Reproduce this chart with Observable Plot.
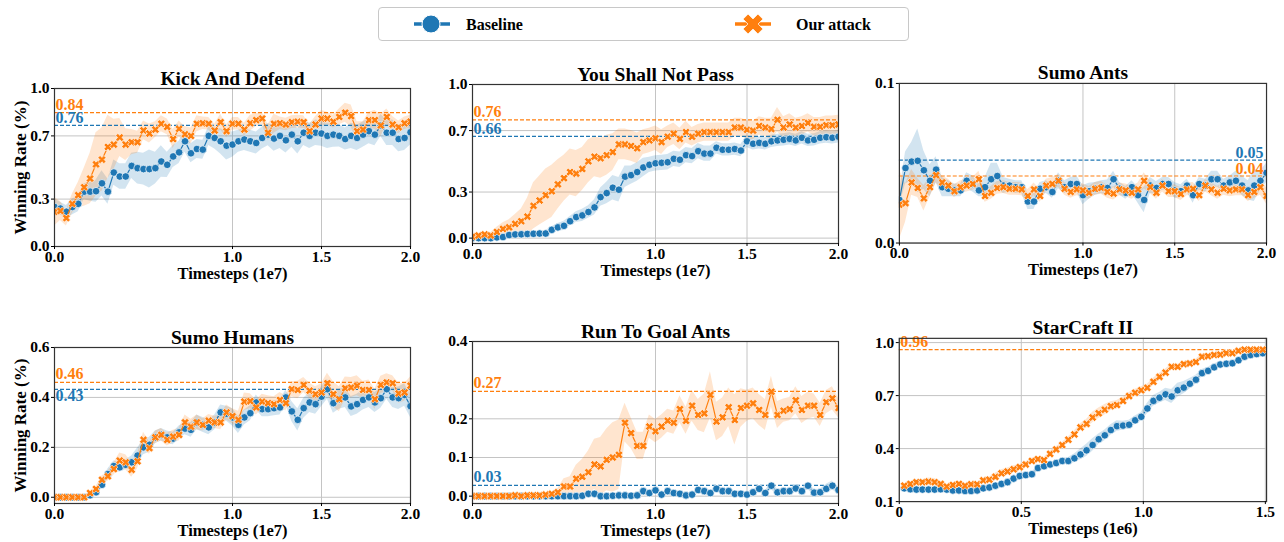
<!DOCTYPE html>
<html><head><meta charset="utf-8">
<script src="https://cdn.jsdelivr.net/npm/d3@7"></script>
<script src="https://cdn.jsdelivr.net/npm/@observablehq/plot@0.6"></script>
<style>
body{margin:0;background:#fff;width:1284px;height:542px;overflow:hidden;position:relative;font-family:"Liberation Serif","Times New Roman",serif;}
.panel{position:absolute;}
#legend{position:absolute;left:378px;top:7px;width:531px;height:34px;border:1.5px solid #c8c8c8;border-radius:4px;box-sizing:border-box;background:#fff;}
</style></head><body>
<div id="legend">
<svg width="531" height="34" style="position:absolute;left:-1.5px;top:-1.5px;overflow:visible">
<line x1="36" x2="72" y1="17" y2="17" stroke="#1f77b4" stroke-width="3.5"/>
<circle cx="53" cy="17" r="9" fill="#1f77b4" stroke="#fff" stroke-width="1"/>
<text x="88" y="22.5" font-family="Liberation Serif, serif" font-weight="bold" font-size="16">Baseline</text>
<line x1="357" x2="393" y1="17" y2="17" stroke="#ff7f0e" stroke-width="3.5"/>
<path id="legx" fill="#ff7f0e" stroke="#fff" stroke-width="0.8"/>
<text x="418" y="22.5" font-family="Liberation Serif, serif" font-weight="bold" font-size="16">Our attack</text>
</svg>
</div>
<script>
// ---------- data ----------
const seriesNames = ["Baseline", "Our attack"];
const colors = {base: "#1f77b4", attack: "#ff7f0e"};
const titles = ["Kick And Defend", "You Shall Not Pass", "Sumo Ants", "Sumo Humans", "Run To Goal Ants", "StarCraft II"];
const xLabels = ["Timesteps (1e7)", "Timesteps (1e7)", "Timesteps (1e7)", "Timesteps (1e7)", "Timesteps (1e7)", "Timesteps (1e6)"];
const yLabel = "Winning Rate (%)";

// checkpoints (units of 1e7 steps; StarCraft in 1e6 steps)
const steps = d3.range(61).map(i => i / 30);
const scSteps = d3.range(60).map(i => 0.0204 + i * 0.0249);

const kadBase = [0.25,0.24,0.22,0.25,0.27,0.347,0.347,0.35,0.40,0.347,
 0.468,0.443,0.443,0.51,0.496,0.49,0.49,0.496,0.538,0.517,
 0.57,0.596,0.666,0.59,0.617,0.613,0.70,0.687,0.666,0.638,
 0.645,0.666,0.677,0.666,0.655,0.687,0.708,0.683,0.70,0.672,
 0.708,0.666,0.72,0.70,0.72,0.715,0.70,0.708,0.70,0.68,
 0.70,0.687,0.708,0.73,0.708,0.766,0.72,0.72,0.68,0.687,0.723];
const kadBaseSd = [0.05,0.04,0.04,0.05,0.05,0.05,0.06,0.07,0.08,0.08,
 0.08,0.08,0.08,0.08,0.1,0.1,0.12,0.1,0.1,0.08,
 0.07,0.07,0.07,0.06,0.06,0.06,0.06,0.07,0.08,0.09,
 0.08,0.07,0.07,0.07,0.07,0.07,0.07,0.08,0.08,0.08,
 0.08,0.08,0.08,0.08,0.08,0.08,0.08,0.08,0.07,0.07,
 0.08,0.08,0.08,0.08,0.07,0.07,0.08,0.08,0.08,0.08,0.08];
const kadAttack = [0.22,0.225,0.18,0.27,0.325,0.375,0.43,0.52,0.55,0.63,
 0.645,0.69,0.645,0.66,0.66,0.735,0.715,0.74,0.777,0.757,
 0.68,0.745,0.71,0.70,0.777,0.78,0.777,0.734,0.787,0.73,
 0.777,0.777,0.74,0.78,0.80,0.81,0.72,0.777,0.78,0.772,
 0.787,0.79,0.787,0.73,0.772,0.81,0.81,0.79,0.82,0.847,
 0.825,0.73,0.74,0.80,0.80,0.766,0.82,0.772,0.755,0.78,0.79];
const kadAttackSd = [0.09,0.06,0.05,0.06,0.08,0.12,0.16,0.2,0.2,0.2,
 0.16,0.12,0.1,0.08,0.07,0.06,0.06,0.05,0.05,0.05,
 0.06,0.05,0.05,0.05,0.05,0.04,0.04,0.04,0.05,0.04,
 0.04,0.04,0.04,0.05,0.04,0.04,0.05,0.06,0.04,0.04,
 0.04,0.04,0.04,0.04,0.05,0.05,0.04,0.04,0.05,0.06,
 0.07,0.06,0.05,0.05,0.06,0.07,0.05,0.05,0.04,0.04,0.04];

const ysnpBase = [0,0,0,0,0.005,0.007,0.02,0.024,0.025,0.027,
 0.028,0.03,0.03,0.054,0.07,0.08,0.11,0.137,0.148,0.17,
 0.20,0.267,0.293,0.328,0.315,0.40,0.41,0.43,0.46,0.477,
 0.487,0.49,0.494,0.516,0.51,0.54,0.534,0.566,0.55,0.55,
 0.588,0.575,0.575,0.58,0.57,0.63,0.614,0.62,0.614,0.63,
 0.636,0.64,0.646,0.636,0.653,0.636,0.64,0.653,0.657,0.653,0.66];
const ysnpBaseSd = [0.005,0.005,0.005,0.005,0.005,0.01,0.01,0.01,0.01,0.01,
 0.01,0.015,0.02,0.02,0.025,0.03,0.03,0.035,0.04,0.04,
 0.05,0.06,0.07,0.08,0.08,0.07,0.06,0.06,0.06,0.05,
 0.05,0.05,0.05,0.05,0.05,0.05,0.05,0.05,0.05,0.05,
 0.04,0.04,0.04,0.04,0.04,0.04,0.04,0.04,0.04,0.04,
 0.04,0.04,0.04,0.04,0.04,0.04,0.04,0.04,0.04,0.04,0.04];
const ysnpAttack = [0.01,0.017,0.024,0.017,0.04,0.06,0.07,0.093,0.11,0.14,
 0.21,0.245,0.28,0.305,0.35,0.39,0.43,0.42,0.45,0.50,
 0.53,0.52,0.54,0.56,0.61,0.61,0.60,0.585,0.625,0.636,
 0.65,0.625,0.66,0.68,0.646,0.69,0.66,0.68,0.69,0.69,
 0.69,0.69,0.69,0.72,0.72,0.705,0.70,0.73,0.72,0.71,
 0.77,0.72,0.74,0.72,0.73,0.75,0.725,0.725,0.735,0.735,0.74];
const ysnpAttackSd = [0.01,0.01,0.01,0.02,0.03,0.04,0.05,0.06,0.08,0.12,
 0.15,0.16,0.17,0.17,0.16,0.15,0.15,0.15,0.14,0.14,
 0.13,0.13,0.13,0.12,0.1,0.1,0.1,0.1,0.08,0.08,
 0.08,0.08,0.07,0.07,0.07,0.07,0.06,0.06,0.06,0.06,
 0.06,0.06,0.06,0.06,0.06,0.06,0.06,0.06,0.06,0.07,
 0.08,0.07,0.07,0.06,0.06,0.06,0.06,0.06,0.06,0.06,0.06];

const saBase = [0.027,0.047,0.051,0.0515,0.0456,0.039,0.046,0.035,0.034,0.033,
 0.033,0.039,0.037,0.033,0.035,0.040,0.042,0.036,0.036,0.035,
 0.035,0.026,0.026,0.034,0.035,0.032,0.039,0.035,0.037,0.037,
 0.030,0.0325,0.034,0.035,0.0345,0.040,0.034,0.0315,0.035,0.030,
 0.027,0.036,0.0345,0.037,0.037,0.033,0.0325,0.036,0.030,0.037,
 0.036,0.040,0.040,0.036,0.038,0.039,0.036,0.033,0.036,0.039,0.044];
const saBaseSd = [0.004,0.01,0.012,0.02,0.012,0.01,0.008,0.006,0.005,0.004,
 0.004,0.005,0.005,0.004,0.006,0.01,0.008,0.005,0.004,0.004,
 0.004,0.005,0.005,0.004,0.004,0.004,0.005,0.004,0.004,0.005,
 0.006,0.005,0.004,0.004,0.005,0.005,0.004,0.004,0.004,0.005,
 0.008,0.005,0.004,0.004,0.004,0.005,0.004,0.004,0.005,0.004,
 0.004,0.005,0.005,0.004,0.004,0.006,0.006,0.006,0.01,0.006,0.006];
const saAttack = [0.024,0.025,0.038,0.0345,0.028,0.035,0.0425,0.038,0.036,0.0325,
 0.035,0.036,0.037,0.040,0.0295,0.0315,0.0345,0.035,0.034,0.034,
 0.0336,0.0295,0.0336,0.0295,0.036,0.037,0.039,0.034,0.032,0.0336,
 0.033,0.0315,0.034,0.0345,0.032,0.031,0.0336,0.033,0.0315,0.0336,
 0.039,0.035,0.0315,0.036,0.0325,0.0325,0.0307,0.0336,0.034,0.030,
 0.036,0.0336,0.0315,0.034,0.033,0.0336,0.0336,0.030,0.032,0.035,0.0295];
const saAttackSd = [0.022,0.012,0.008,0.006,0.008,0.006,0.005,0.004,0.004,0.004,
 0.004,0.004,0.004,0.005,0.004,0.004,0.004,0.004,0.004,0.004,
 0.004,0.004,0.004,0.004,0.004,0.004,0.004,0.004,0.004,0.004,
 0.004,0.004,0.004,0.004,0.004,0.004,0.004,0.004,0.004,0.004,
 0.005,0.004,0.004,0.004,0.004,0.004,0.004,0.004,0.004,0.004,
 0.004,0.004,0.004,0.004,0.004,0.004,0.004,0.004,0.004,0.005,0.005];

const shBase = [0,0,0,0,0,0,0.008,0.02,0.05,0.093,
 0.125,0.12,0.13,0.14,0.167,0.2,0.21,0.24,0.25,0.24,
 0.235,0.26,0.275,0.27,0.30,0.29,0.28,0.30,0.34,0.335,
 0.32,0.29,0.32,0.337,0.38,0.353,0.353,0.357,0.36,0.40,
 0.344,0.31,0.357,0.38,0.373,0.403,0.433,0.377,0.393,0.40,
 0.364,0.373,0.39,0.40,0.38,0.397,0.433,0.40,0.397,0.41,0.365];
const shBaseSd = [0.002,0.002,0.002,0.002,0.002,0.002,0.006,0.01,0.015,0.02,
 0.02,0.02,0.02,0.025,0.03,0.03,0.03,0.025,0.025,0.025,
 0.025,0.025,0.025,0.03,0.03,0.03,0.03,0.03,0.03,0.03,
 0.035,0.035,0.03,0.03,0.03,0.03,0.03,0.03,0.03,0.03,
 0.04,0.045,0.04,0.04,0.04,0.04,0.04,0.04,0.04,0.04,
 0.04,0.04,0.04,0.04,0.04,0.04,0.04,0.04,0.045,0.045,0.045];
const shAttack = [0,0,0,0,0,0,0.017,0.033,0.07,0.084,
 0.113,0.147,0.14,0.11,0.144,0.23,0.197,0.24,0.25,0.23,
 0.243,0.25,0.30,0.283,0.30,0.29,0.307,0.30,0.30,0.34,
 0.325,0.31,0.383,0.385,0.36,0.383,0.377,0.373,0.39,0.377,
 0.433,0.43,0.45,0.427,0.413,0.42,0.457,0.413,0.393,0.437,
 0.44,0.447,0.43,0.43,0.393,0.45,0.46,0.457,0.416,0.42,0.447];
const shAttackSd = [0.002,0.002,0.002,0.002,0.002,0.002,0.008,0.01,0.015,0.02,
 0.025,0.03,0.03,0.03,0.03,0.03,0.025,0.025,0.025,0.025,
 0.025,0.025,0.03,0.03,0.03,0.025,0.025,0.025,0.03,0.03,
 0.03,0.035,0.035,0.03,0.03,0.03,0.03,0.03,0.03,0.03,
 0.03,0.035,0.03,0.03,0.03,0.035,0.04,0.05,0.05,0.045,
 0.04,0.04,0.035,0.04,0.04,0.035,0.035,0.03,0.04,0.035,0.035];

const rgBase = [0,0,0,0,0,0,0,0,0,0,
 0,0,0,0,0,0,0,0,0.001,0.006,
 0.006,0,0,0.001,0.002,0.002,0.001,0.002,0.013,0.008,
 0.015,0.004,0.013,0.008,0.006,0.002,0.004,0.016,0.013,0.008,
 0.019,0.013,0.013,0.006,0.006,0.004,0.01,0.019,0.008,0.027,
 0.01,0.013,0.013,0.02,0.013,0.027,0.009,0.01,0.019,0.027,0.016];
const rgBaseSd = [0.002,0.002,0.002,0.002,0.002,0.002,0.002,0.002,0.002,0.002,
 0.002,0.002,0.002,0.002,0.002,0.002,0.002,0.002,0.003,0.004,
 0.004,0.003,0.003,0.003,0.003,0.003,0.003,0.004,0.005,0.005,
 0.005,0.004,0.005,0.005,0.005,0.004,0.004,0.005,0.005,0.005,
 0.006,0.006,0.005,0.005,0.005,0.005,0.006,0.006,0.006,0.01,
 0.008,0.006,0.006,0.006,0.006,0.01,0.008,0.008,0.012,0.012,0.008];
const rgAttack = [0,0,0,0,0,0,0,0.002,0,0.002,
 0.002,0.002,0.004,0.006,0.01,0.025,0.025,0.045,0.05,0.062,
 0.082,0.077,0.094,0.10,0.107,0.19,0.163,0.13,0.13,0.18,
 0.168,0.18,0.195,0.19,0.225,0.195,0.234,0.21,0.214,0.262,
 0.193,0.204,0.23,0.197,0.228,0.234,0.24,0.223,0.21,0.27,
 0.21,0.221,0.225,0.248,0.223,0.234,0.234,0.21,0.243,0.253,0.228];
const rgAttackSd = [0.002,0.002,0.002,0.002,0.002,0.002,0.002,0.002,0.002,0.002,
 0.002,0.002,0.003,0.005,0.01,0.02,0.025,0.035,0.045,0.055,
 0.065,0.075,0.08,0.09,0.09,0.05,0.04,0.035,0.035,0.03,
 0.03,0.03,0.03,0.03,0.035,0.035,0.04,0.04,0.05,0.06,
 0.05,0.05,0.05,0.065,0.05,0.04,0.04,0.04,0.04,0.04,
 0.035,0.03,0.03,0.035,0.035,0.035,0.03,0.03,0.03,0.03,0.025];

const scBase = [0.175,0.17,0.168,0.168,0.168,0.168,0.17,0.168,0.163,0.163,
 0.16,0.16,0.163,0.175,0.18,0.19,0.2,0.21,0.23,0.245,
 0.25,0.255,0.29,0.3,0.31,0.318,0.33,0.33,0.345,0.367,
 0.39,0.42,0.453,0.475,0.505,0.527,0.53,0.535,0.56,0.58,
 0.627,0.67,0.688,0.707,0.695,0.73,0.745,0.767,0.79,0.827,
 0.84,0.86,0.876,0.88,0.883,0.9,0.92,0.93,0.935,0.94];
const scBaseSd = [0.008,0.008,0.008,0.008,0.008,0.008,0.008,0.008,0.008,0.008,
 0.008,0.008,0.008,0.01,0.01,0.01,0.01,0.01,0.012,0.012,
 0.012,0.012,0.012,0.012,0.012,0.012,0.015,0.02,0.025,0.03,
 0.035,0.035,0.03,0.03,0.03,0.03,0.025,0.025,0.025,0.025,
 0.03,0.03,0.03,0.035,0.04,0.04,0.035,0.03,0.025,0.02,
 0.02,0.02,0.015,0.015,0.012,0.012,0.01,0.01,0.01,0.01];
const scAttack = [0.19,0.2,0.21,0.21,0.213,0.21,0.2,0.185,0.194,0.2,
 0.19,0.198,0.198,0.22,0.224,0.24,0.26,0.27,0.283,0.295,
 0.31,0.33,0.34,0.335,0.37,0.395,0.42,0.45,0.48,0.52,
 0.54,0.576,0.6,0.62,0.64,0.647,0.67,0.697,0.716,0.73,
 0.744,0.778,0.806,0.83,0.863,0.863,0.878,0.882,0.89,0.92,
 0.923,0.93,0.932,0.94,0.94,0.953,0.96,0.96,0.96,0.96];
const scAttackSd = [0.01,0.01,0.01,0.012,0.02,0.02,0.015,0.01,0.01,0.01,
 0.01,0.01,0.01,0.012,0.015,0.02,0.02,0.02,0.02,0.015,
 0.015,0.015,0.015,0.015,0.015,0.015,0.015,0.015,0.02,0.02,
 0.025,0.03,0.03,0.03,0.025,0.025,0.02,0.02,0.02,0.02,
 0.02,0.02,0.02,0.02,0.015,0.015,0.015,0.015,0.015,0.015,
 0.012,0.012,0.012,0.01,0.01,0.01,0.008,0.008,0.008,0.008];

// reference (best) levels: [attack, baseline]; null = not drawn
const refValues = [[0.847,0.766],[0.77,0.662],[0.042,0.052],[0.46,0.432],[0.271,0.028],[0.96,null]];
const refLabels = [["0.84","0.76"],["0.76","0.66"],["0.04","0.05"],["0.46","0.43"],["0.27","0.03"],["0.96",null]];

// tick labels
const xTicks2e7 = [0, 1.0, 1.5, 2.0];
const xTicksSc = [0, 0.5, 1.0, 1.5];
const yTicksList = [[0,0.3,0.7,1.0],[0,0.3,0.7,1.0],[0,0.1],[0,0.2,0.4,0.6],[0,0.1,0.2,0.4],[0.1,0.4,0.7,1.0]];

// ---------- layout (page pixel positions of each frame) ----------
const panelDefs = [
 {x: steps, base: kadBase, baseSd: kadBaseSd, att: kadAttack, attSd: kadAttackSd, L:54,R:410,T:88,B:246, yDomain:[0,1], xDomain:[0,2], xTicks:xTicks2e7, ylab:true, labAnchor:"start", labDy:[-2.5,-2]},
 {x: steps, base: ysnpBase, baseSd: ysnpBaseSd, att: ysnpAttack, attSd: ysnpAttackSd, L:472,R:838,T:84,B:243, yDomain:[-0.035,1], xDomain:[0,2], xTicks:xTicks2e7, ylab:false, labAnchor:"start", labDy:[-2.5,-2.5]},
 {x: steps, base: saBase, baseSd: saBaseSd, att: saAttack, attSd: saAttackSd, L:899,R:1267,T:83,B:243, yDomain:[0,0.1], xDomain:[0,2], xTicks:xTicks2e7, ylab:false, labAnchor:"end", labDy:[-2.5,-2.5]},
 {x: steps, base: shBase, baseSd: shBaseSd, att: shAttack, attSd: shAttackSd, L:54,R:410,T:347,B:503, yDomain:[-0.025,0.6], xDomain:[0,2], xTicks:xTicks2e7, ylab:true, labAnchor:"start", labDy:[-3,11.5]},
 {x: steps, base: rgBase, baseSd: rgBaseSd, att: rgAttack, attSd: rgAttackSd, L:472,R:838,T:341,B:503, yDomain:[-0.019,0.4], xDomain:[0,2], xTicks:xTicks2e7, ylab:false, labAnchor:"start", labDy:[-3,-3]},
 {x: scSteps, base: scBase, baseSd: scBaseSd, att: scAttack, attSd: scAttackSd, L:899,R:1268,T:338,B:502, yDomain:[0.1,1.024], xDomain:[0,1.505], xTicks:xTicksSc, ylab:false, labAnchor:"start", labDy:[-3,-3]}
];

// filled "X" marker
function xPath(r, t) {
  const pts = [[-t,-r],[t,-r],[t,-t],[r,-t],[r,t],[t,t],[t,r],[-t,r],[-t,t],[-r,t],[-r,-t],[-t,-t]];
  const c = Math.SQRT1_2;
  return pts.map(([x,y]) => [(x - y) * c, (x + y) * c]);
}
const filledX = {
  draw(ctx, size) {
    const r = Math.sqrt(size / Math.PI);
    xPath(r, r * 0.36).forEach(([x, y], i) => i ? ctx.lineTo(x, y) : ctx.moveTo(x, y));
    ctx.closePath();
  }
};
document.getElementById("legx").setAttribute("d",
  "M" + xPath(10.5, 3.6).map(([x, y]) => `${(375 + x).toFixed(2)},${(17 + y).toFixed(2)}`).join("L") + "Z");

const mL = 50, mR = 18, mT = 32, mB = 40;
const fmt1 = d => d.toFixed(1);

panelDefs.forEach((p, k) => {
  const baseData = p.x.map((t, i) => ({x: t, y: p.base[i], lo: p.base[i] - p.baseSd[i], hi: p.base[i] + p.baseSd[i]}));
  const attData = p.x.map((t, i) => ({x: t, y: p.att[i], lo: p.att[i] - p.attSd[i], hi: p.att[i] + p.attSd[i]}));
  const refs = [
    {v: refValues[k][0], label: refLabels[k][0], color: colors.attack, dy: p.labDy[0]},
    {v: refValues[k][1], label: refLabels[k][1], color: colors.base, dy: p.labDy[1]}
  ].filter(r => r.v != null);
  const labX = p.labAnchor === "start" ? p.xDomain[0] : p.xDomain[1];
  const labDx = p.labAnchor === "start" ? 1 : -3;
  const xTickFmt = k === 5 ? (d => d === 0 ? "0" : d.toFixed(1)) : fmt1;

  const marks = [
    Plot.gridX(p.xTicks, {stroke: "#c4c4c4", strokeOpacity: 1, strokeWidth: 1}),
    Plot.gridY(yTicksList[k], {stroke: "#c4c4c4", strokeOpacity: 1, strokeWidth: 1}),
    Plot.areaY(baseData, {x: "x", y1: "lo", y2: "hi", fill: colors.base, fillOpacity: 0.2, clip: true}),
    Plot.areaY(attData, {x: "x", y1: "lo", y2: "hi", fill: colors.attack, fillOpacity: 0.2, clip: true}),
    ...refs.map(r => Plot.ruleY([r.v], {stroke: r.color, strokeWidth: 1.2, strokeDasharray: "4,2"})),
    Plot.lineY(baseData, {x: "x", y: "y", stroke: colors.base, strokeWidth: 1.2, clip: true}),
    Plot.dot(baseData, {x: "x", y: "y", r: 3.8, fill: colors.base, stroke: "#fff", strokeWidth: 0.7, clip: true}),
    Plot.lineY(attData, {x: "x", y: "y", stroke: colors.attack, strokeWidth: 1.2, clip: true}),
    Plot.dot(attData, {x: "x", y: "y", r: 4.2, symbol: filledX, fill: colors.attack, stroke: "#fff", strokeWidth: 0.6, clip: true}),
    ...refs.map(r => Plot.text([r.label], {x: labX, y: r.v, text: d => d, fill: r.color, fontSize: 16, fontWeight: "bold",
      textAnchor: p.labAnchor, lineAnchor: "bottom", dx: labDx, dy: r.dy})),
    Plot.frame({stroke: "#333", strokeWidth: 1.2}),
    Plot.axisX({ticks: p.xTicks, tickFormat: xTickFmt, tickSize: 3, tickPadding: 1, label: null}),
    Plot.axisY({ticks: yTicksList[k], tickFormat: fmt1, tickSize: 3, tickPadding: 2, label: null}),
    Plot.text([titles[k]], {frameAnchor: "top", textAnchor: "middle", lineAnchor: "bottom", dy: -4, fontSize: 19.5, fontWeight: "bold", text: d => d}),
    Plot.text([xLabels[k]], {frameAnchor: "bottom", textAnchor: "middle", lineAnchor: "middle", dy: 27, fontSize: 16.5, fontWeight: "bold", text: d => d})
  ];
  if (p.ylab) marks.push(Plot.text([yLabel], {frameAnchor: "left", textAnchor: "middle", lineAnchor: "middle", rotate: -90, dx: -34, fontSize: 17, fontWeight: "bold", text: d => d}));

  const svg = Plot.plot({
    width: (p.R - p.L) + mL + mR,
    height: (p.B - p.T) + mT + mB,
    marginLeft: mL, marginRight: mR, marginTop: mT, marginBottom: mB,
    style: {fontFamily: '"Liberation Serif", "Times New Roman", serif', fontSize: "15.5px", fontWeight: "bold", color: "#000", background: "transparent", overflow: "visible"},
    x: {domain: p.xDomain, label: null},
    y: {domain: p.yDomain, label: null},
    marks
  });
  const div = document.createElement("div");
  div.className = "panel";
  div.style.left = (p.L - mL) + "px";
  div.style.top = (p.T - mT) + "px";
  div.appendChild(svg);
  document.body.appendChild(div);
});
</script>
</body></html>
